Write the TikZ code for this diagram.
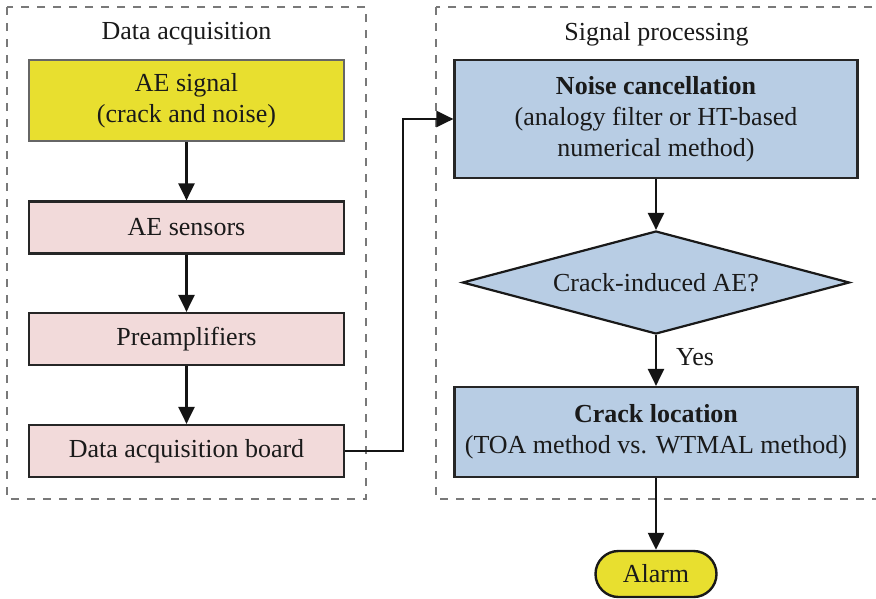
\documentclass[tikz,border=0pt]{standalone}
\usepackage{fontspec}
\setmainfont{Liberation Serif}
\usetikzlibrary{shapes.geometric,arrows.meta}
\definecolor{ayellow}{HTML}{E8DF2F}
\definecolor{apink}{HTML}{F2DADA}
\definecolor{ablue}{HTML}{B8CDE4}
\definecolor{txt}{HTML}{1A1A1A}
\begin{document}
\begin{tikzpicture}[x=1pt,y=-1pt,
  font=\fontsize{26}{31}\selectfont,
  every node/.style={text=txt},
  group/.style={draw=gray!95!black, line width=1.2pt, dash pattern=on 8pt off 8pt},
  sigbox/.style={draw=black!60, line width=2.2pt, fill=ayellow, minimum width=315pt, minimum height=81pt, align=center, inner sep=0pt},
  pinkbox/.style={draw=black!85, line width=2.2pt, fill=apink, minimum width=315pt, minimum height=52pt, align=center, inner sep=0pt},
  bluebox/.style={draw=black!85, line width=2.2pt, fill=ablue, minimum width=403pt, align=center, inner sep=0pt},
  decision/.style={diamond, aspect=3.76, draw=black!90, line width=2.2pt, fill=ablue, minimum width=387pt, minimum height=103pt, inner sep=0pt},
  alarmbox/.style={draw=black!90, line width=2.4pt, fill=ayellow, rounded corners=23pt, minimum width=121pt, minimum height=46pt, inner sep=0pt},
  flow/.style={line width=2.4pt, draw=black!92, -{Triangle[length=17pt,width=16pt]}}
]
\clip (0,0) rectangle (876,598);
\fill[white] (0,0) rectangle (876,598);
% group frames
\draw[group] (7,7) rectangle (366,499);
\draw[group] (436,7) rectangle (890,499);
\node (t1) at (186.5,34) {Data acquisition};
\node (t2) at (656.5,34) {Signal processing};
% left column
\node[sigbox] (sig) at (186.5,100.5) {AE signal\\(crack and noise)};
\node[pinkbox] (sens) at (186.5,227.5) {AE sensors};
\node[pinkbox] (pre) at (186.5,339) {Preamplifiers};
\node[pinkbox] (dab) at (186.5,451) {Data acquisition board};
% right column
\node[bluebox, minimum height=118pt] (noise) at (656,119) {\textbf{Noise cancellation}\\(analogy filter or HT-based\\numerical method)};
\node[decision] (dec) at (656,282.5) {Crack-induced AE?};
\node[bluebox, minimum height=90pt] (crack) at (656,432) {\textbf{Crack location}\\(TOA method vs. WTMAL method)};
\node[alarmbox] (alarm) at (656,574) {Alarm};
\node (yes) at (695,357) {Yes};
% connectors
\draw[flow] (sig) -- (sens);
\draw[flow] (sens) -- (pre);
\draw[flow] (pre) -- (dab);
\coordinate (j1) at (403,451);
\coordinate (j2) at (403,119);
\draw[flow] (dab.east) -- (j1) -- (j2) -- (noise.west);
\draw[flow] (noise) -- (dec);
\draw[flow] (dec) -- (crack);
\draw[flow] (crack) -- (alarm);
\end{tikzpicture}
\end{document}
